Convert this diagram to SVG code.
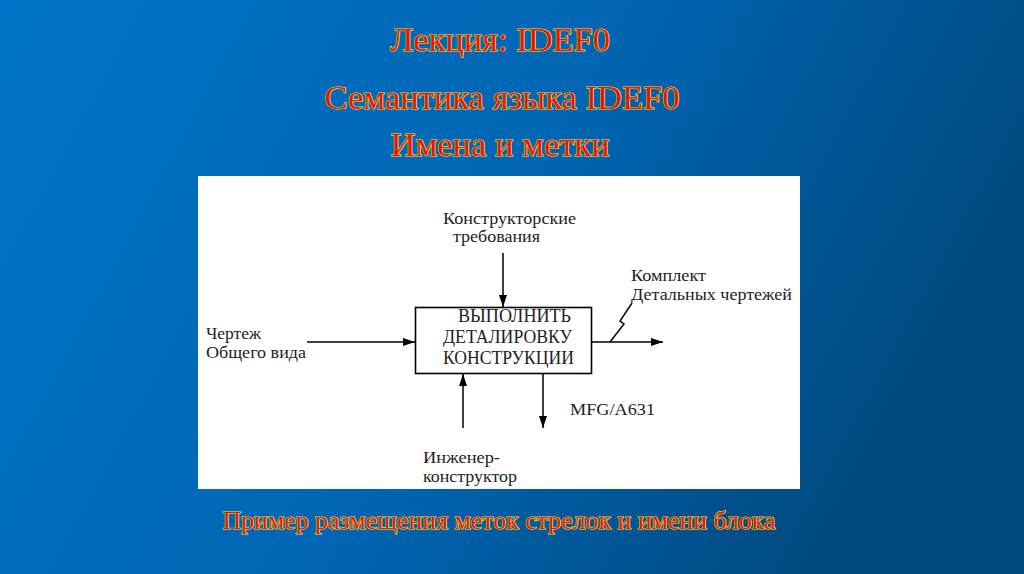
<svg xmlns="http://www.w3.org/2000/svg" width="1024" height="574" viewBox="0 0 1024 574" font-family="Liberation Serif, serif">
<defs>
<linearGradient id="bg" x1="0" y1="0" x2="1" y2="0.3">
<stop offset="0" stop-color="#0074c8"/>
<stop offset="0.55" stop-color="#0066b4"/>
<stop offset="1" stop-color="#004a80"/>
</linearGradient>
<marker id="ah" viewBox="0 0 12 8" refX="12" refY="4" markerWidth="12" markerHeight="8" markerUnits="userSpaceOnUse" orient="auto">
<path d="M0,0 L12,4 L0,8 z" fill="#000"/>
</marker>
<style>
.title{fill:#e8140c;stroke:#f4e830;stroke-width:1.2;paint-order:stroke;text-anchor:middle}
.lbl{font-size:16px;fill:#222}
.box{font-size:18px;fill:#222}
.ln{stroke:#000;stroke-width:1.5;fill:none}
</style>
</defs>
<rect width="1024" height="574" fill="url(#bg)"/>
<g id="titles" font-family="Liberation Serif, serif">
<text class="title" x="500" y="51" font-size="33" textLength="220" lengthAdjust="spacingAndGlyphs">Лекция: IDEF0</text>
<text class="title" x="502" y="109" font-size="33" textLength="355" lengthAdjust="spacingAndGlyphs">Семантика языка IDEF0</text>
<text class="title" x="500" y="156" font-size="33" textLength="219" lengthAdjust="spacingAndGlyphs">Имена и метки</text>
</g>
<rect x="198" y="176" width="602" height="313" fill="#ffffff"/>
<g id="block" font-family="Liberation Serif, serif">
<rect x="415.5" y="307.5" width="176" height="66" fill="#fff" stroke="#000" stroke-width="1.6"/>
<text class="box" x="458" y="322" textLength="113" lengthAdjust="spacingAndGlyphs">ВЫПОЛНИТЬ</text>
<text class="box" x="443" y="343" textLength="129" lengthAdjust="spacingAndGlyphs">ДЕТАЛИРОВКУ</text>
<text class="box" x="443" y="364" textLength="131" lengthAdjust="spacingAndGlyphs">КОНСТРУКЦИИ</text>
</g>
<g id="connectors">
<line class="ln" x1="503" y1="253" x2="503" y2="307" marker-end="url(#ah)"/>
<line class="ln" x1="307" y1="342" x2="415" y2="342" marker-end="url(#ah)"/>
<line class="ln" x1="592" y1="342" x2="663" y2="342" marker-end="url(#ah)"/>
<polyline class="ln" points="610,342 624,324 620,321 632,303"/>
<line class="ln" x1="463" y1="428" x2="463" y2="374" marker-end="url(#ah)"/>
<line class="ln" x1="543" y1="374" x2="543" y2="428" marker-end="url(#ah)"/>
</g>
<g id="label-control" font-family="Liberation Serif, serif">
<text class="lbl" x="443" y="224" textLength="133" lengthAdjust="spacingAndGlyphs">Конструкторские</text>
<text class="lbl" x="453" y="242" textLength="87" lengthAdjust="spacingAndGlyphs">требования</text>
</g>
<g id="label-input" font-family="Liberation Serif, serif">
<text class="lbl" x="206" y="339" textLength="55" lengthAdjust="spacingAndGlyphs">Чертеж</text>
<text class="lbl" x="206" y="358" textLength="100" lengthAdjust="spacingAndGlyphs">Общего вида</text>
</g>
<g id="label-output" font-family="Liberation Serif, serif">
<text class="lbl" x="631" y="281" textLength="75" lengthAdjust="spacingAndGlyphs">Комплект</text>
<text class="lbl" x="631" y="300" textLength="161" lengthAdjust="spacingAndGlyphs">Детальных чертежей</text>
</g>
<g id="label-ref" font-family="Liberation Serif, serif">
<text class="lbl" x="570" y="415" textLength="85" lengthAdjust="spacingAndGlyphs">MFG/A631</text>
</g>
<g id="label-mech" font-family="Liberation Serif, serif">
<text class="lbl" x="423" y="463" textLength="77" lengthAdjust="spacingAndGlyphs">Инженер-</text>
<text class="lbl" x="423" y="482" textLength="94" lengthAdjust="spacingAndGlyphs">конструктор</text>
</g>
<g id="caption" font-family="Liberation Serif, serif">
<text class="title" x="499" y="529" font-size="25" stroke-width="1" textLength="553" lengthAdjust="spacingAndGlyphs">Пример размещения меток стрелок и имени блока</text>
</g>
</svg>
